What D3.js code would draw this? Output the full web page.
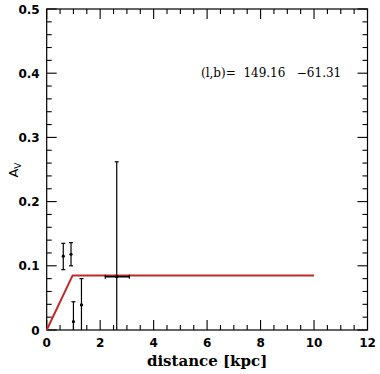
<!DOCTYPE html>
<html>
<head>
<meta charset="utf-8">
<script src="https://cdn.jsdelivr.net/npm/d3@7"></script>
<style>
body { margin: 0; background: #fff; }
svg { display: block; }
</style>
</head>
<body>
<svg width="380" height="374"></svg>
<script>
var svg = d3.select("svg");

// data points: distance, Av, errors
var dist = [0.62, 0.91, 1.0, 1.3, 2.62];
var av = [0.115, 0.118, 0.013, 0.039, 0.083];
var avLo = [0.094, 0.100, 0.0, 0.0, 0.0];
var avHi = [0.135, 0.136, 0.044, 0.080, 0.262];
var distLo = [null, null, null, null, 2.19];
var distHi = [null, null, null, null, 3.09];

// model curve
var modelX = [0, 0.97, 10];
var modelY = [0, 0.085, 0.085];

var xTicks = [0, 2, 4, 6, 8, 10, 12];
var yTicks = [0, 0.1, 0.2, 0.3, 0.4, 0.5];

var pLeft = 46.7, pRight = 367.5, pTop = 9, pBottom = 330;

var x = d3.scaleLinear().domain([0, 12]).range([pLeft, pRight]);
var y = d3.scaleLinear().domain([0, 0.5]).range([pBottom, pTop]);

var tickFont = "'DejaVu Sans', sans-serif";

// frame
svg.append("rect")
    .attr("x", pLeft).attr("y", pTop)
    .attr("width", pRight - pLeft).attr("height", pBottom - pTop)
    .style("fill", "none").style("stroke", "#000").style("stroke-width", 1.2);

// ticks (all four sides, pointing inward)
var xMinor = d3.range(0, 12.01, 0.5);
var yMinor = d3.range(0, 0.501, 0.02);
function isMajorX(v) { return Math.abs(v / 2 - Math.round(v / 2)) < 1e-6; }
function isMajorY(v) { return Math.abs(v / 0.1 - Math.round(v / 0.1)) < 1e-6; }

var tg = svg.append("g").style("stroke", "#000").style("stroke-width", 1.1);
xMinor.forEach(function (v) {
    var len = isMajorX(v) ? 10 : 5;
    tg.append("line").attr("x1", x(v)).attr("x2", x(v)).attr("y1", pBottom).attr("y2", pBottom - len);
    tg.append("line").attr("x1", x(v)).attr("x2", x(v)).attr("y1", pTop).attr("y2", pTop + len);
});
yMinor.forEach(function (v) {
    var len = isMajorY(v) ? 10 : 5;
    tg.append("line").attr("x1", pLeft).attr("x2", pLeft + len).attr("y1", y(v)).attr("y2", y(v));
    tg.append("line").attr("x1", pRight).attr("x2", pRight - len).attr("y1", y(v)).attr("y2", y(v));
});

// tick labels
svg.append("g").selectAll("text").data(xTicks).enter().append("text")
    .attr("x", function (d) { return x(d); })
    .attr("y", pBottom + 17)
    .attr("text-anchor", "middle")
    .style("font-family", tickFont).style("font-weight", "bold").style("font-size", "12px")
    .text(function (d) { return d; });

svg.append("g").selectAll("text").data(yTicks).enter().append("text")
    .attr("x", pLeft - 7)
    .attr("y", function (d) { return y(d) + 4.5; })
    .attr("text-anchor", "end")
    .style("font-family", tickFont).style("font-weight", "bold").style("font-size", "12px")
    .text(function (d) { return d === 0 ? "0" : d3.format(".1f")(d); });

// axis labels
svg.append("text")
    .attr("x", (pLeft + pRight) / 2).attr("y", 366)
    .attr("text-anchor", "middle")
    .style("font-family", "'DejaVu Serif', serif").style("font-weight", "bold").style("font-size", "15px")
    .text("distance [kpc]");

var yl = svg.append("text")
    .attr("transform", "translate(18,170) rotate(-90)")
    .attr("text-anchor", "middle")
    .style("font-family", tickFont).style("font-size", "13px");
yl.append("tspan").text("A");
yl.append("tspan").attr("dy", 3).style("font-size", "9px").text("V");

// annotation
svg.append("text")
    .attr("x", 201).attr("y", 77)
    .style("font-family", "'DejaVu Serif', serif").style("font-size", "12px")
    .attr("xml:space", "preserve")
    .text("(l,b)=  149.16   \u221261.31");

// model line
var line = d3.line()
    .x(function (d) { return x(d[0]); })
    .y(function (d) { return y(d[1]); });
svg.append("path")
    .datum(modelX.map(function (d, i) { return [d, modelY[i]]; }))
    .attr("d", line)
    .style("fill", "none").style("stroke", "#c0282a").style("stroke-width", 2);

// error bars
var eg = svg.append("g").style("stroke", "#000").style("stroke-width", 1.2);
dist.forEach(function (d, i) {
    eg.append("line").attr("x1", x(d)).attr("x2", x(d)).attr("y1", y(avLo[i])).attr("y2", y(avHi[i]));
    if (avLo[i] > 0) eg.append("line").attr("x1", x(d) - 2).attr("x2", x(d) + 2).attr("y1", y(avLo[i])).attr("y2", y(avLo[i]));
    eg.append("line").attr("x1", x(d) - 2).attr("x2", x(d) + 2).attr("y1", y(avHi[i])).attr("y2", y(avHi[i]));
    if (distLo[i] !== null) {
        eg.append("line").attr("x1", x(distLo[i])).attr("x2", x(distHi[i])).attr("y1", y(av[i])).attr("y2", y(av[i])).style("stroke-width", 1.6);
        eg.append("line").attr("x1", x(distLo[i])).attr("x2", x(distLo[i])).attr("y1", y(av[i]) - 2).attr("y2", y(av[i]) + 2);
        eg.append("line").attr("x1", x(distHi[i])).attr("x2", x(distHi[i])).attr("y1", y(av[i]) - 2).attr("y2", y(av[i]) + 2);
    }
});
svg.append("g").selectAll("circle").data(dist).enter().append("circle")
    .attr("cx", function (d) { return x(d); })
    .attr("cy", function (d, i) { return y(av[i]); })
    .attr("r", 1.6)
    .style("fill", "#000");
</script>
</body>
</html>
